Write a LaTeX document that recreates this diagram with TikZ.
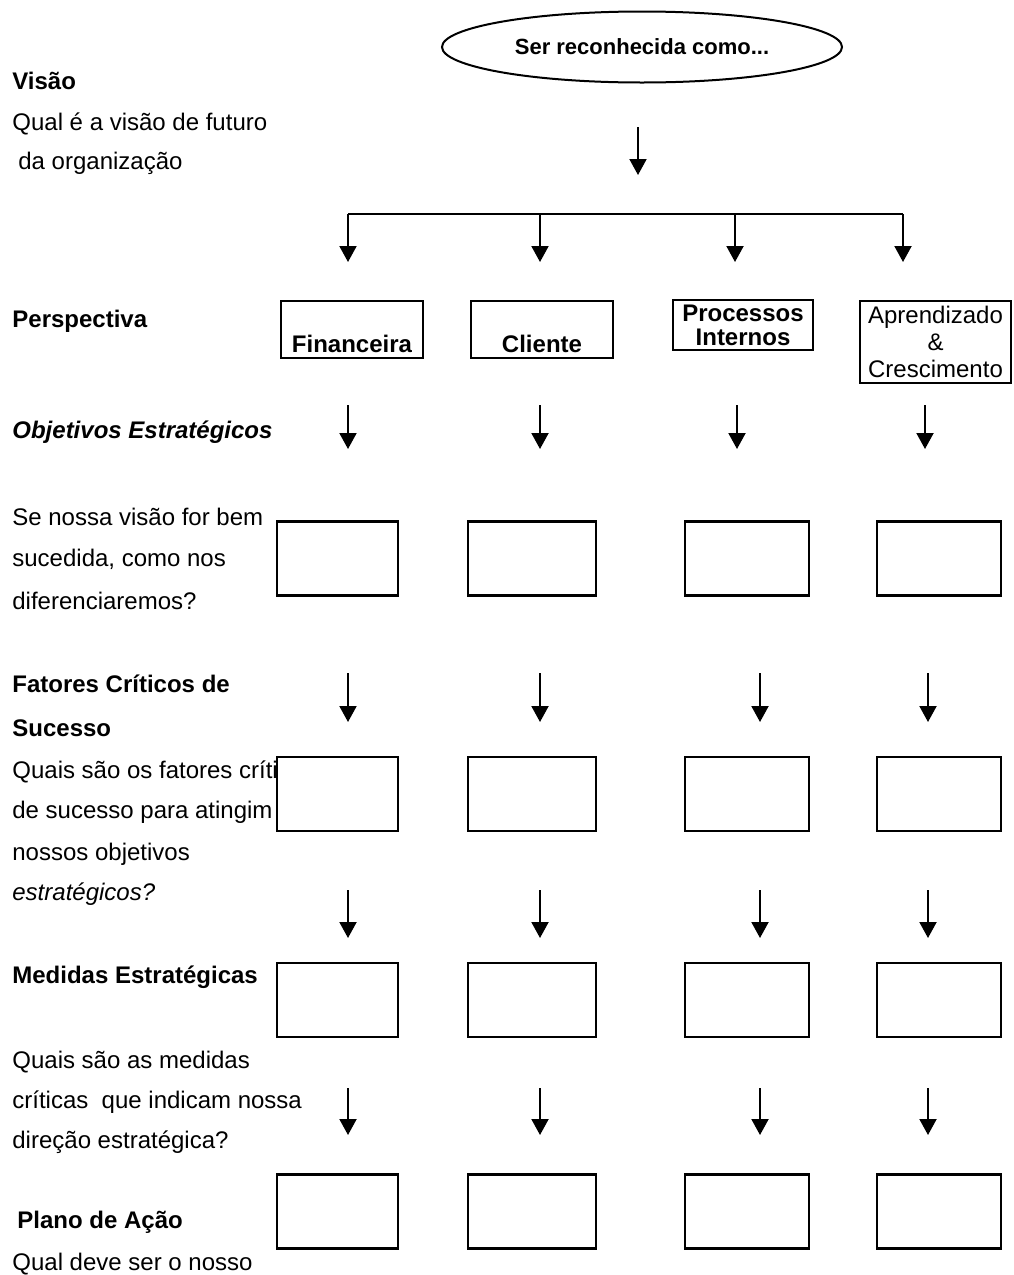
\documentclass[tikz,border=0pt]{standalone}
\usepackage{fontspec}
\setmainfont{Liberation Sans}
\usetikzlibrary{arrows.meta,shapes.geometric}

\begin{document}
\begin{tikzpicture}[x=0.5pt,y=-0.5pt]
\tikzset{
  lbl/.style={anchor=base west,inner sep=0pt,font=\fontsize{12}{14}\selectfont},
  hd/.style={anchor=base west,inner sep=0pt,font=\fontsize{12}{14}\selectfont\bfseries},
  pbox/.style={draw,line width=1.3pt,inner sep=0pt,font=\fontsize{12}{14}\selectfont\bfseries},
  ebox/.style={draw,line width=1.4pt,fill=white,inner sep=0pt,minimum height=37pt},
  arr/.style={line width=1pt,-{Triangle[width=8.5pt,length=8pt]}}
}
\useasboundingbox (0,0) rectangle (1013,1275);

\node[hd] (visao) at (12,89) {Visão};
\node[lbl] (q1) at (12,130) {Qual é a visão de futuro};
\node[lbl] (q2) at (18,169) {da organização};
\node[hd] (persp) at (12,327) {Perspectiva};
\node[hd,font=\fontsize{12}{14}\selectfont\bfseries\itshape] (objt) at (12,438) {Objetivos Estratégicos};
\node[lbl] (q3) at (12,525) {Se nossa visão for bem};
\node[lbl] (q4) at (12,566) {sucedida, como nos};
\node[lbl] (q5) at (12,609) {diferenciaremos?};
\node[hd] (fcs1) at (12,692) {Fatores Críticos de};
\node[hd] (fcs2) at (12,736) {Sucesso};
\node[lbl] (q6) at (12,778) {Quais são os fatores críti};
\node[lbl] (q7) at (12,818) {de sucesso para atingim};
\node[lbl] (q8) at (12,860) {nossos objetivos};
\node[lbl,font=\fontsize{12}{14}\selectfont\itshape] (q9) at (12,900) {estratégicos?};
\node[hd] (med) at (12,983) {Medidas Estratégicas};
\node[lbl] (q10) at (12,1068) {Quais são as medidas};
\node[lbl] (q11) at (12,1108) {críticas\ \ que indicam nossa};
\node[lbl] (q12) at (12,1148) {direção estratégica?};
\node[hd] (plano) at (17,1228) {Plano de Ação};
\node[lbl] (q13) at (12,1270) {Qual deve ser o nosso};

\node[draw,ellipse,line width=1pt,inner sep=0pt,minimum width=200pt,minimum height=35.5pt,
  font=\fontsize{11}{13}\selectfont\bfseries] (vis) at (642,47) {Ser reconhecida como...};
\coordinate (v1) at (638,127);
\coordinate (v2) at (638,175);
\draw[arr] (v1) -- (v2);

\coordinate (bl) at (348,214);
\coordinate (br) at (903,214);
\draw[line width=1.2pt] (bl) -- (br);
\foreach \x [count=\i] in {348,540,735,903}
{
    \coordinate (top\i) at (\x,214);
    \coordinate (tip\i) at (\x,262);
    \draw[arr] (top\i) -- (tip\i);
}

\node[pbox,text height=25.5pt,text depth=3pt,minimum width=71pt,anchor=base] (fin) at (352,352) {Financeira};
\node[pbox,text height=25.5pt,text depth=3pt,minimum width=71pt,anchor=base] (cli) at (542,352) {Cliente};
\node[pbox,align=center,minimum width=70pt,minimum height=25pt,
  font=\fontsize{12}{12}\selectfont\bfseries] (pro) at (743,325) {Processos\\Internos};
\node[pbox,align=center,minimum width=75.5pt,minimum height=41pt,
  font=\fontsize{12}{13.5}\selectfont] (apr) at (935.5,342) {Aprendizado\\\&\\Crescimento};

\foreach \row/\ya/\yb/\xc/\xd in {a/405/449/737/925, b/673/722/760/928, c/890/938/760/928, d/1088/1135/760/928}
{
    \foreach \x [count=\i] in {348,540,\xc,\xd}
    {
        \coordinate (\row s\i) at (\x,\ya);
        \coordinate (\row e\i) at (\x,\yb);
        \draw[arr] (\row s\i) -- (\row e\i);
    }
}

\foreach \r/\cy in {o/558.5, f/794, m/1000, p/1211.5}
{
    \foreach \c/\cx/\w in {1/337.5/60.5, 2/532/64, 3/747/62, 4/939/62}
    {
        \node[ebox,minimum width=\w pt] (\r\c) at (\cx,\cy) {};
    }
}
\end{tikzpicture}
\end{document}
